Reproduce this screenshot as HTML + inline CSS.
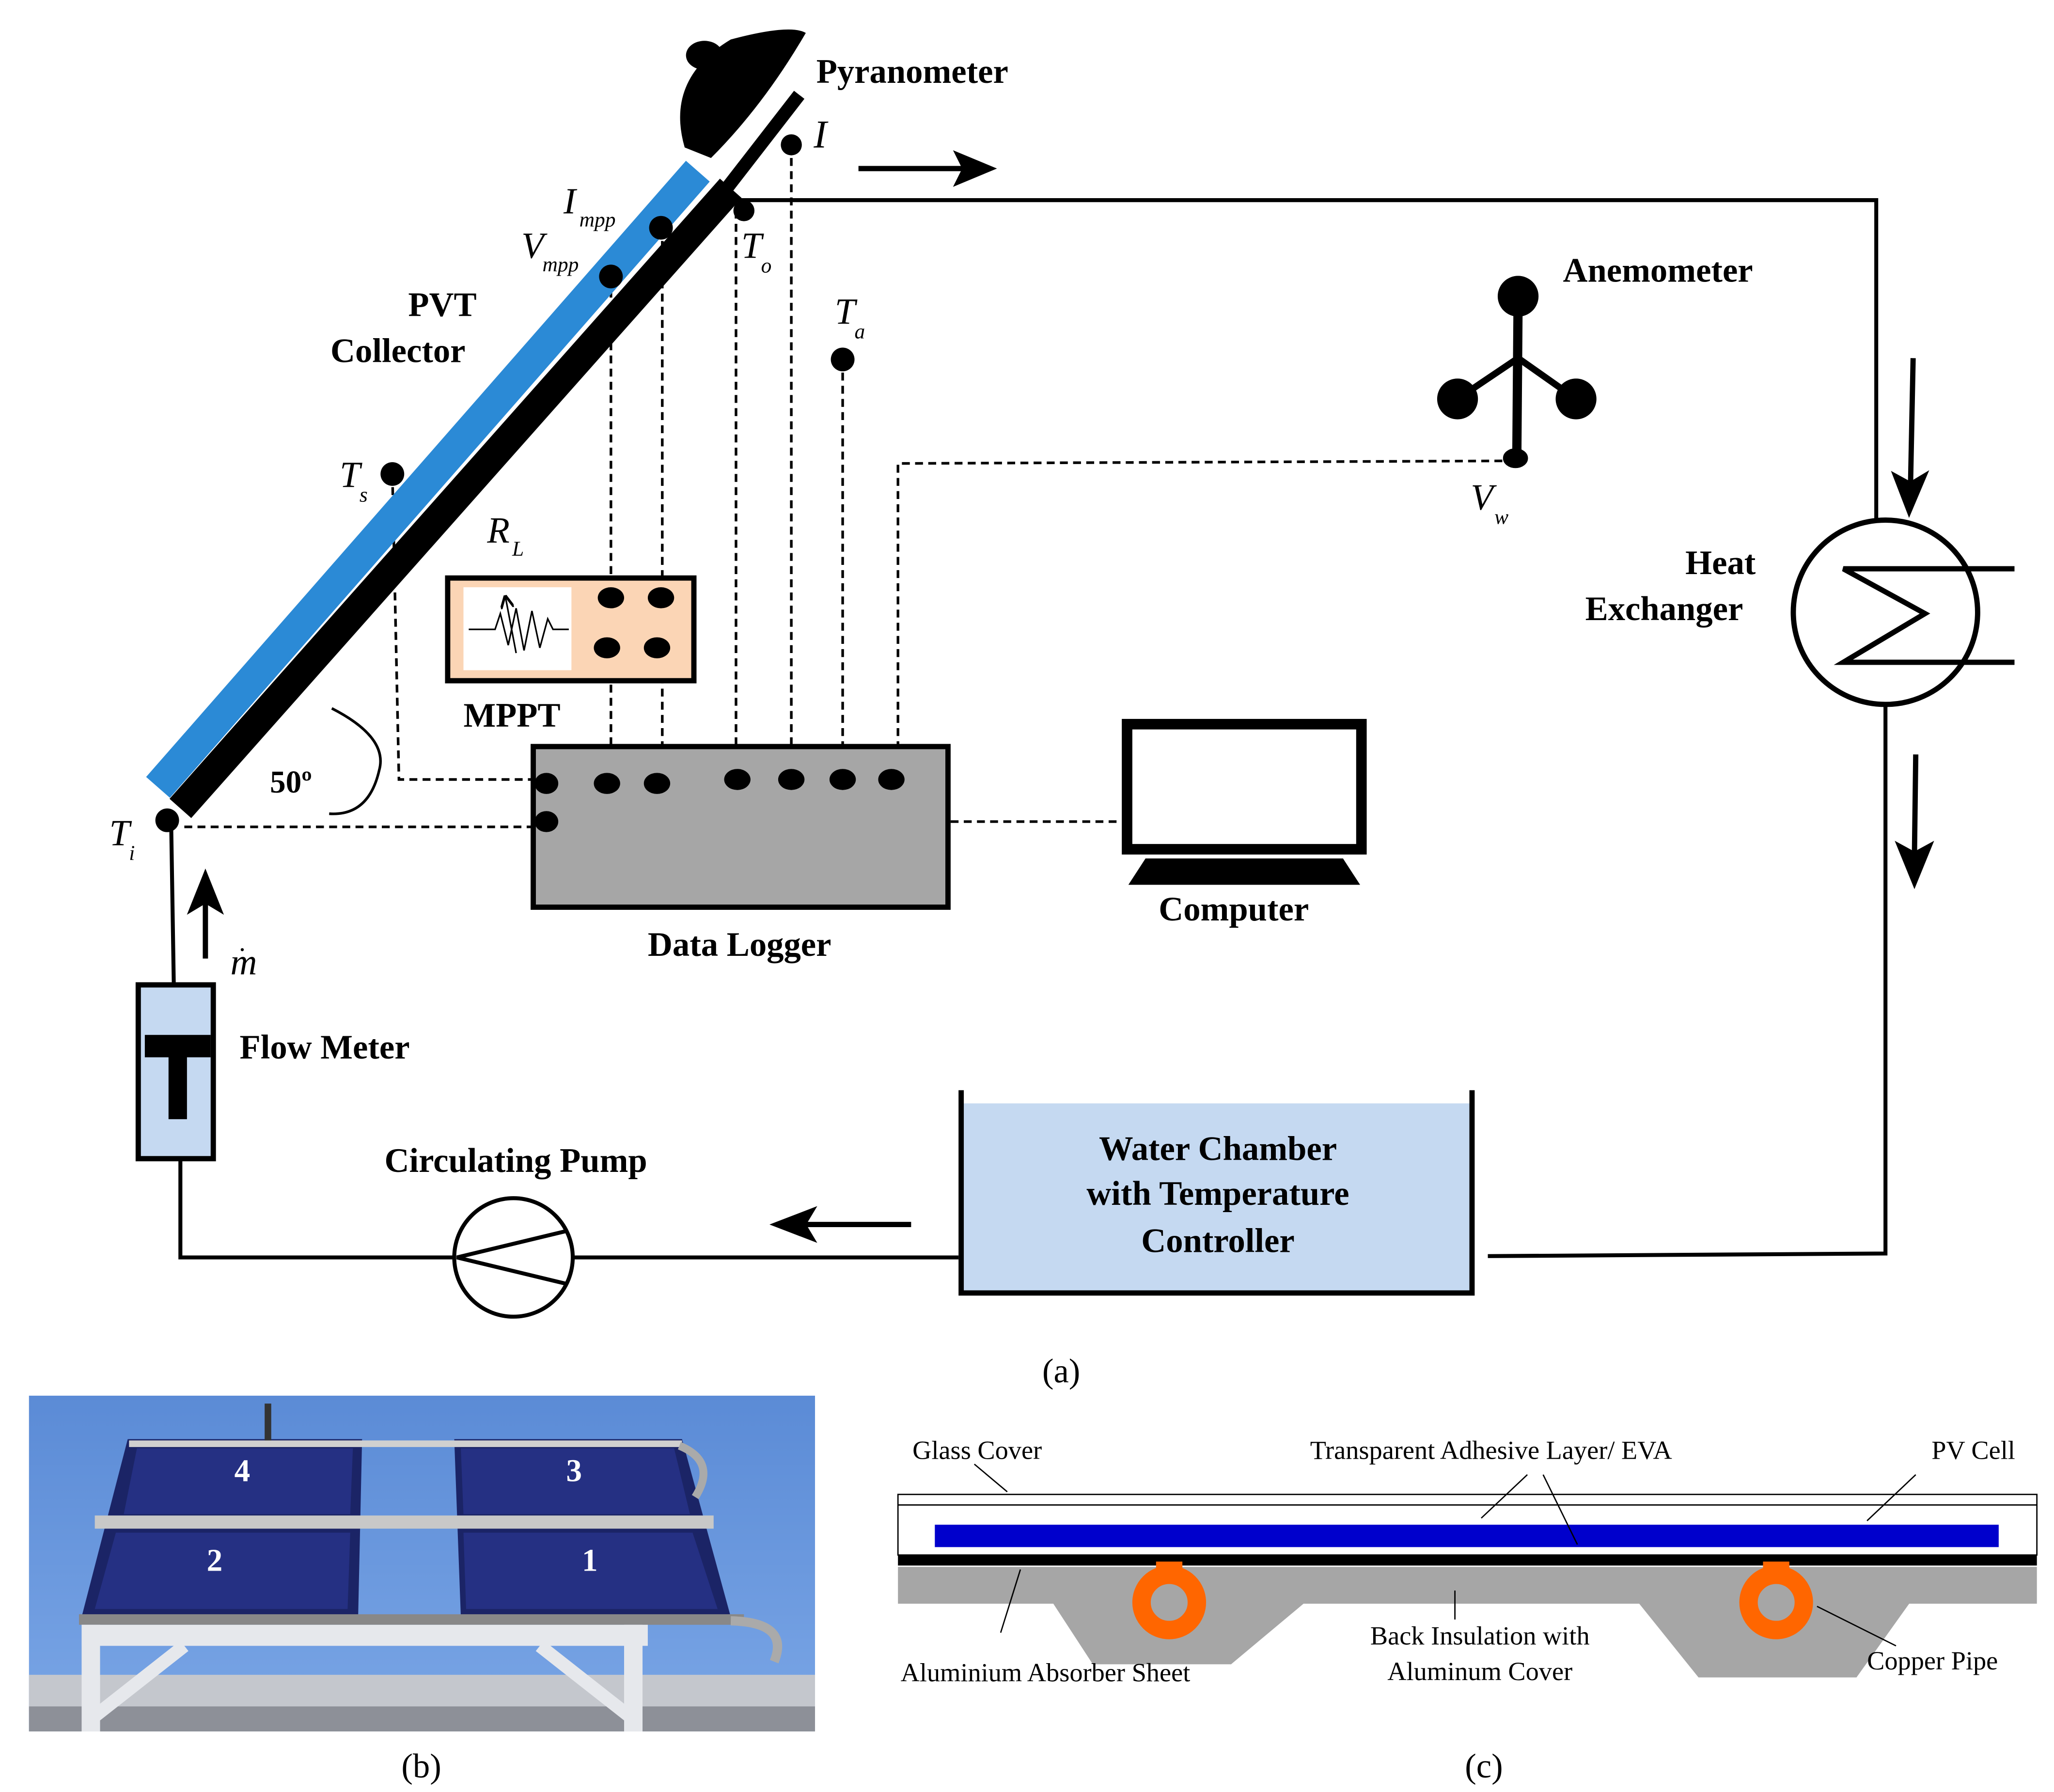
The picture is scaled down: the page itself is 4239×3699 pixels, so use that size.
<!DOCTYPE html>
<html><head><meta charset="utf-8"><style>
html,body{margin:0;padding:0;background:#fff}
svg{display:block}
text{font-family:"Liberation Serif",serif;font-weight:bold;fill:#000}
.it{font-style:italic;font-weight:normal}
</style></head><body>
<svg width="4239" height="3699" viewBox="0 0 1560 1361" preserveAspectRatio="none" xmlns="http://www.w3.org/2000/svg">
<defs>
<linearGradient id="sky" x1="0" y1="0" x2="0" y2="1"><stop offset="0" stop-color="#5b8bd6"/><stop offset="1" stop-color="#7aa6e6"/></linearGradient>
<marker id="ah" markerWidth="10" markerHeight="10" refX="8" refY="5" orient="auto" markerUnits="userSpaceOnUse"><path d="M0,0 L10,5 L0,10" fill="none" stroke="#000" stroke-width="2"/></marker>
</defs>
<g fill="none" stroke="#000" stroke-width="3">
<polyline points="560,152 1425,152 1425,395"/>
<polyline points="1432,535 1432,952 1130,954"/>
<polyline points="728,955 137,955 137,880"/>
<polyline points="132,748 130,625"/>
</g>
<g fill="none" stroke="#000" stroke-width="2" stroke-dasharray="6,4">
<polyline points="464,210 464,595"/>
<polyline points="503,173 503,595"/>
<polyline points="559,160 559,590"/>
<polyline points="601,110 601,590"/>
<polyline points="640,273 640,590"/>
<polyline points="1151,350 682,352 682,590"/>
<polyline points="298,360 303,592 415,592"/>
<polyline points="140,628 415,628"/>
<polyline points="722,624 850,624"/>
</g>
<line x1="120" y1="598" x2="530" y2="130" stroke="#2b8ad6" stroke-width="24"/>
<line x1="137" y1="614" x2="555" y2="143" stroke="#000" stroke-width="22"/>
<line x1="545" y1="152" x2="607" y2="72" stroke="#000" stroke-width="10"/>
<path d="M520,112 Q505,60 555,30 Q600,18 612,25 Q580,80 540,120 Z" fill="#000"/>
<ellipse cx="535" cy="42" rx="14" ry="11" fill="#000"/>
<g fill="#000">
<circle cx="601" cy="110" r="8"/><circle cx="565" cy="160" r="8"/>
<circle cx="502" cy="173" r="9"/><circle cx="464" cy="210" r="9"/>
<circle cx="298" cy="360" r="9"/><circle cx="640" cy="273" r="9"/>
<circle cx="127" cy="623" r="9"/>
</g>
<rect x="340" y="439" width="187" height="78" fill="#fbd5b5" stroke="#000" stroke-width="4"/>
<rect x="352" y="446" width="82" height="63" fill="#fff"/>
<polyline points="356,478 376,478 380,466 386,490 392,462 398,494 404,464 410,492 416,470 420,478 432,478" fill="none" stroke="#000" stroke-width="1.2"/>
<line x1="392" y1="496" x2="384" y2="454" stroke="#000" stroke-width="1.2" marker-end="url(#ah)"/>
<g fill="#000"><ellipse cx="464" cy="454" rx="10" ry="8"/><ellipse cx="502" cy="454" rx="10" ry="8"/><ellipse cx="461" cy="492" rx="10" ry="8"/><ellipse cx="499" cy="492" rx="10" ry="8"/></g>
<rect x="405" y="567" width="315" height="122" fill="#a6a6a6" stroke="#000" stroke-width="4"/>
<g fill="#000"><ellipse cx="415" cy="595" rx="9" ry="8"/><ellipse cx="415" cy="624" rx="9" ry="8"/><ellipse cx="461" cy="595" rx="10" ry="8"/><ellipse cx="499" cy="595" rx="10" ry="8"/><ellipse cx="560" cy="592" rx="10" ry="8"/><ellipse cx="601" cy="592" rx="10" ry="8"/><ellipse cx="640" cy="592" rx="10" ry="8"/><ellipse cx="677" cy="592" rx="10" ry="8"/></g>
<path d="M252,538 Q295,560 288,585 Q280,620 250,618" fill="none" stroke="#000" stroke-width="2"/>
<rect x="856" y="550" width="178" height="95" fill="#fff" stroke="#000" stroke-width="8"/>
<polygon points="870,652 1020,652 1033,672 857,672" fill="#000"/>
<g fill="#000" stroke="#000">
<line x1="1153" y1="225" x2="1152" y2="348" stroke-width="7"/>
<line x1="1107" y1="303" x2="1153" y2="272" stroke-width="5"/>
<line x1="1197" y1="303" x2="1153" y2="272" stroke-width="5"/>
<circle cx="1153" cy="225" r="15"/><circle cx="1107" cy="303" r="15"/><circle cx="1197" cy="303" r="15"/>
<ellipse cx="1151" cy="348" rx="9" ry="7"/>
</g>
<circle cx="1432" cy="465" r="70" fill="#fff" stroke="#000" stroke-width="4"/>
<polyline points="1530,432 1400,432 1462,466 1400,503 1530,503" fill="none" stroke="#000" stroke-width="4"/>
<rect x="105" y="748" width="57" height="132" fill="#c5d9f1" stroke="#000" stroke-width="4"/>
<rect x="110" y="786" width="50" height="17" fill="#000"/>
<rect x="128" y="800" width="14" height="50" fill="#000"/>
<circle cx="390" cy="955" r="45" fill="#fff" stroke="#000" stroke-width="3"/>
<polyline points="430,935 347,955 430,975" fill="none" stroke="#000" stroke-width="3"/>
<rect x="732" y="838" width="386" height="142" fill="#c5d9f1"/>
<polyline points="730,828 730,982 1118,982 1118,828" fill="none" stroke="#000" stroke-width="4"/>
<g stroke="#000" stroke-width="4" fill="#000">
<line x1="652" y1="128" x2="735" y2="128"/><polygon points="752,128 728,118 733,128 728,138"/>
<line x1="1453" y1="272" x2="1451" y2="370"/><polygon points="1450,388 1440,362 1451,368 1461,362"/>
<line x1="1455" y1="573" x2="1454" y2="650"/><polygon points="1454,670 1443,643 1454,649 1465,643"/>
<line x1="692" y1="930" x2="610" y2="930"/><polygon points="590,930 616,920 610,930 616,940"/>
<line x1="156" y1="728" x2="156" y2="682"/><polygon points="156,665 146,690 156,684 166,690"/>
</g>
<text x="620" y="63" font-size="26">Pyranometer</text>
<text x="618" y="112" font-size="30" class="it">I</text>
<text x="428" y="162" font-size="28" class="it">I</text><text x="440" y="172" font-size="16" class="it">mpp</text>
<text x="396" y="196" font-size="28" class="it">V</text><text x="412" y="206" font-size="16" class="it">mpp</text>
<text x="563" y="196" font-size="28" class="it">T</text><text x="578" y="207" font-size="16" class="it">o</text>
<text x="634" y="246" font-size="28" class="it">T</text><text x="649" y="257" font-size="16" class="it">a</text>
<text x="258" y="370" font-size="28" class="it">T</text><text x="273" y="381" font-size="16" class="it">s</text>
<text x="370" y="412" font-size="28" class="it">R</text><text x="389" y="422" font-size="16" class="it">L</text>
<text x="83" y="642" font-size="28" class="it">T</text><text x="98" y="653" font-size="16" class="it">i</text>
<text x="1117" y="387" font-size="28" class="it">V</text><text x="1135" y="398" font-size="16" class="it">w</text>
<text x="175" y="740" font-size="28" class="it">m</text><text x="182" y="722" font-size="20" class="it">.</text>
<text x="310" y="240" font-size="26">PVT</text>
<text x="251" y="275" font-size="26">Collector</text>
<text x="352" y="552" font-size="26">MPPT</text>
<text x="205" y="602" font-size="24">50º</text>
<text x="492" y="726" font-size="26">Data Logger</text>
<text x="880" y="699" font-size="26">Computer</text>
<text x="1187" y="214" font-size="26">Anemometer</text>
<text x="1280" y="436" font-size="26">Heat</text>
<text x="1204" y="471" font-size="26">Exchanger</text>
<text x="182" y="804" font-size="26">Flow Meter</text>
<text x="292" y="890" font-size="26">Circulating Pump</text>
<text x="925" y="881" font-size="26" text-anchor="middle">Water Chamber</text>
<text x="925" y="915" font-size="26" text-anchor="middle">with Temperature</text>
<text x="925" y="951" font-size="26" text-anchor="middle">Controller</text>
<text x="806" y="1050" font-size="26" text-anchor="middle" style="font-weight:normal">(a)</text>
<text x="320" y="1350" font-size="26" text-anchor="middle" style="font-weight:normal">(b)</text>
<text x="1127" y="1350" font-size="26" text-anchor="middle" style="font-weight:normal">(c)</text>
<!-- photo b -->
<rect x="22" y="1060" width="597" height="255" fill="url(#sky)"/>
<rect x="22" y="1272" width="597" height="28" fill="#c4c7cd"/>
<rect x="22" y="1296" width="597" height="19" fill="#8d9098"/>
<polygon points="97,1093 275,1093 272,1228 62,1228" fill="#1b2466"/>
<polygon points="345,1093 518,1093 555,1228 350,1228" fill="#1b2466"/>
<polygon points="104,1100 268,1100 266,1150 94,1150" fill="#253083"/>
<polygon points="350,1100 512,1100 524,1150 352,1150" fill="#253083"/>
<polygon points="88,1164 266,1164 264,1222 72,1222" fill="#253083"/>
<polygon points="352,1164 526,1164 545,1222 354,1222" fill="#253083"/>
<rect x="98" y="1094" width="420" height="5" fill="#d0d0d0"/>
<rect x="72" y="1151" width="470" height="10" fill="#c8c8c8"/>
<rect x="60" y="1226" width="505" height="8" fill="#888"/>
<path d="M516,1098 Q545,1110 528,1137" fill="none" stroke="#aaa" stroke-width="6"/>
<path d="M555,1231 Q600,1232 588,1262" fill="none" stroke="#aaa" stroke-width="7"/>
<rect x="62" y="1234" width="430" height="16" fill="#e6e8ec"/>
<rect x="62" y="1234" width="14" height="81" fill="#e6e8ec"/>
<rect x="474" y="1234" width="14" height="81" fill="#e6e8ec"/>
<line x1="70" y1="1305" x2="140" y2="1250" stroke="#e6e8ec" stroke-width="10"/>
<line x1="480" y1="1305" x2="410" y2="1250" stroke="#e6e8ec" stroke-width="10"/>
<rect x="201" y="1066" width="5" height="28" fill="#333"/>
<text x="178" y="1125" font-size="24" style="fill:#fff">4</text>
<text x="430" y="1125" font-size="24" style="fill:#fff">3</text>
<text x="157" y="1193" font-size="24" style="fill:#fff">2</text>
<text x="442" y="1193" font-size="24" style="fill:#fff">1</text>
<!-- c -->
<polygon points="682,1190 1547,1190 1547,1218 1450,1218 1410,1274 1290,1274 1245,1218 990,1218 935,1264 830,1264 800,1218 682,1218" fill="#a6a6a6"/>
<rect x="682" y="1135" width="865" height="46" fill="#fff" stroke="#000" stroke-width="1"/>
<line x1="682" y1="1143" x2="1547" y2="1143" stroke="#000" stroke-width="1"/>
<rect x="710" y="1158" width="808" height="17" fill="#0000cc"/>
<rect x="682" y="1181" width="865" height="8" fill="#000"/>
<g fill="none" stroke="#ff6600" stroke-width="14"><circle cx="888" cy="1217" r="21"/><circle cx="1349" cy="1217" r="21"/></g>
<rect x="878" y="1186" width="20" height="8" fill="#ff6600"/><rect x="1339" y="1186" width="20" height="8" fill="#ff6600"/>
<g stroke="#000" stroke-width="1" fill="none">
<line x1="740" y1="1112" x2="765" y2="1133"/>
<line x1="1160" y1="1120" x2="1125" y2="1153"/>
<line x1="1172" y1="1120" x2="1198" y2="1173"/>
<line x1="1455" y1="1120" x2="1418" y2="1155"/>
<line x1="760" y1="1240" x2="775" y2="1192"/>
<line x1="1105" y1="1230" x2="1105" y2="1208"/>
<line x1="1440" y1="1250" x2="1380" y2="1220"/>
</g>
<text x="693" y="1108" font-size="20" style="font-weight:normal">Glass Cover</text>
<text x="995" y="1108" font-size="20" style="font-weight:normal">Transparent Adhesive Layer/ EVA</text>
<text x="1467" y="1108" font-size="20" style="font-weight:normal">PV Cell</text>
<text x="684" y="1277" font-size="20" style="font-weight:normal">Aluminium Absorber Sheet</text>
<text x="1124" y="1249" font-size="20" text-anchor="middle" style="font-weight:normal">Back Insulation with</text>
<text x="1124" y="1276" font-size="20" text-anchor="middle" style="font-weight:normal">Aluminum Cover</text>
<text x="1418" y="1268" font-size="20" style="font-weight:normal">Copper Pipe</text>
</svg>
</body></html>
